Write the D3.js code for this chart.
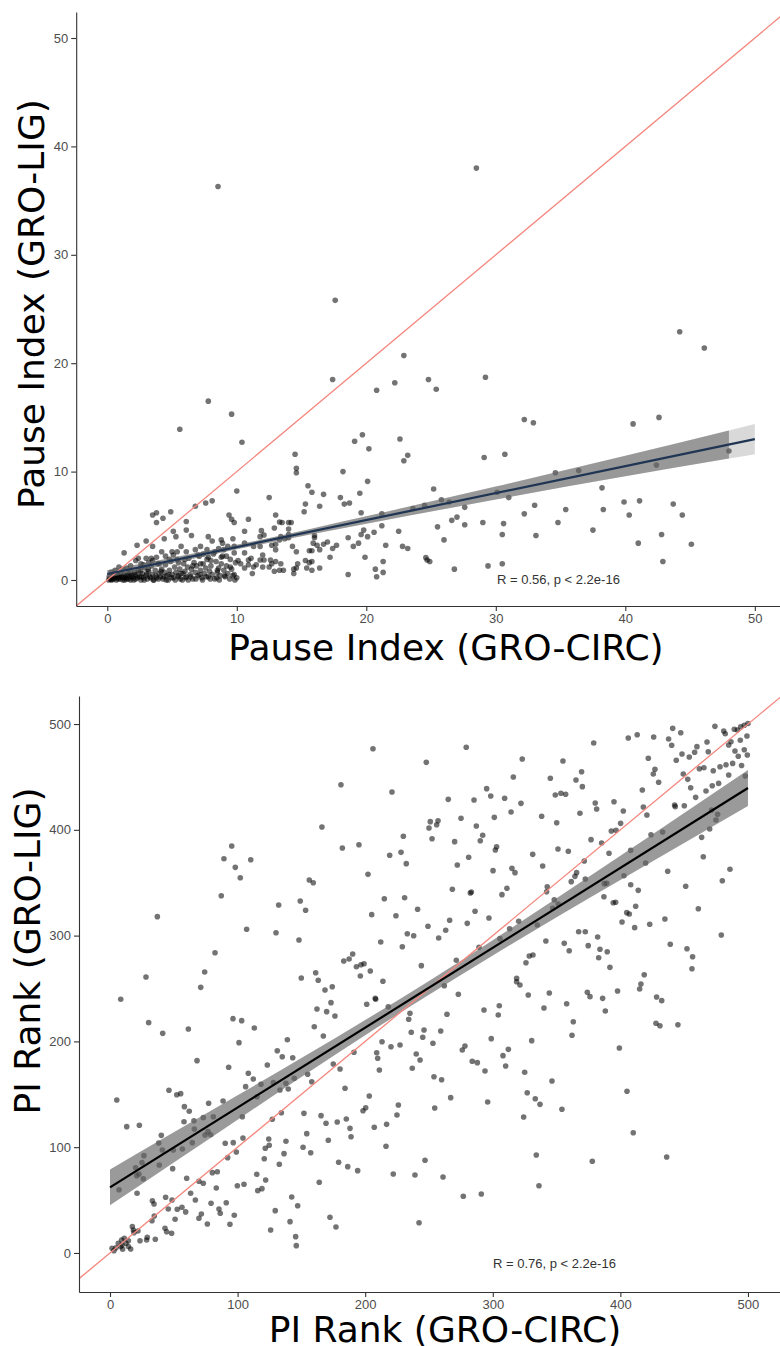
<!DOCTYPE html>
<html>
<head>
<meta charset="utf-8">
<script src="https://cdn.jsdelivr.net/npm/d3@7"></script>
<style>
  body { margin: 0; background: #fff; }
  svg text { font-family: "Liberation Sans", Arial, sans-serif; }
</style>
</head>
<body>
<div id="app"></div>
<script>
`use strict`;

// ---- data ----

const topTicks = [0, 10, 20, 30, 40, 50];
const bottomTicks = [0, 100, 200, 300, 400, 500];

const topLabels = [`Pause Index (GRO-CIRC)`, `Pause Index (GRO-LIG)`, `R = 0.56, p < 2.2e-16`];
const bottomLabels = [`PI Rank (GRO-CIRC)`, `PI Rank (GRO-LIG)`, `R = 0.76, p < 2.2e-16`];

// pause index, GRO-CIRC vs GRO-LIG
const topPoints = [
  [8.55,36.3],[28.5,38.0],[17.6,25.8],[22.9,20.7],[17.4,18.5],[22.2,18.2],[20.8,17.5],[24.8,18.5],[25.4,17.6],[29.2,18.7],
  [44.2,22.9],[46.1,21.4],[7.8,16.5],[9.6,15.3],[5.6,13.9],[10.4,12.7],[14.5,11.6],[14.6,10.3],[14.6,9.9],[19.1,12.8],
  [19.7,13.4],[20.2,12.1],[22.6,13.0],[23.2,11.5],[22.9,11.0],[18.2,10.0],[32.2,14.8],[32.9,14.5],[40.6,14.4],[42.6,15.0],
  [29.1,11.3],[30.7,11.6],[34.6,9.9],[36.4,10.1],[42.4,10.6],[48.0,11.9],
  [12.5,7.6],[15.5,8.7],[15.8,8.1],[16.7,7.9],[16.4,6.8],[15.3,7.0],[15.2,6.3],[18.0,7.6],[18.3,7.0],[18.7,7.1],
  [19.5,8.0],[20.1,9.1],[19.6,6.2],[25.2,8.4],[25.8,7.4],[26.4,7.2],[27.6,6.7],[23.6,6.6],[24.5,6.9],[38.2,8.5],
  [38.3,6.5],[39.9,7.2],[41.1,7.3],[40.3,6.0],[43.7,7.0],[44.4,6.0],[35.4,6.5],[32.2,6.1],[33.0,6.9],[31.0,7.6],
  [30.1,8.1],[27.6,5.1],[27.0,5.8],[26.6,5.5],[29.0,5.3],[30.6,5.2],[30.5,4.2],[33.1,4.1],[34.8,5.3],[37.5,4.6],
  [41.0,3.4],[42.8,4.2],[42.9,1.7],[45.1,3.3],[29.4,1.3],[30.5,1.5],[26.8,1.0],[24.6,2.06],[24.7,1.85],[24.9,1.7],
  [26.0,3.7],[25.5,4.9],[22.5,4.5],[22.8,3.1],[23.2,2.9],[21.5,3.2],[21.2,5.0],[21.2,6.1],[20.6,4.4],[20.1,4.0],
  [19.8,4.6],[19.6,4.2],[19.4,3.4],[19.0,3.1],[19.9,2.1],[20.7,1.0],[20.8,0.3],[21.3,0.7],[21.3,1.7],[18.6,0.5],
  [18.6,3.9],[17.7,3.2],[17.4,2.9],[17.2,2.1],[17.0,3.5],[16.7,3.3],[16.2,3.2],[16.4,2.8],[16.4,1.1],[16.0,4.1],
  [16.0,3.9],[15.9,3.4],[15.6,2.7],[15.8,2.7],[15.3,1.8],[15.6,1.6],[15.8,0.9],[15.4,1.1],[15.8,1.7],[14.3,3.1],
  [14.6,2.6],[14.4,1.0],[14.6,1.1],[14.4,0.6],[14.7,1.5],[14.0,5.3],[14.2,5.3],[13.3,5.35],[13.5,5.3],[14.0,4.7],
  [13.0,6.0],[12.9,4.8],[14.0,4.2],[13.7,3.8],[13.4,4.0],[14.0,3.9],[13.3,3.7],[13.0,3.3],[12.7,3.2],[13.0,2.8],
  [11.9,4.55],[12.1,4.15],[11.8,4.0],[11.8,3.1],[12.0,2.3],[11.8,1.85],[12.1,1.85],[12.6,1.85],[12.5,1.2],[12.7,1.5],
  [13.0,1.7],[13.3,0.9],[13.6,0.9],[13.4,1.5],[12.9,0.8],[12.0,1.2],[11.5,1.4],[11.3,1.2],[11.2,0.6],[10.9,1.4],
  [10.6,1.1],[10.6,4.5],[10.6,3.4],[11.3,3.1],[10.9,1.85],[11.1,2.0],[10.6,2.5],[10.9,5.6],
  [10.0,8.2],[8.1,7.3],[7.6,7.1],[6.8,6.8],[3.8,6.2],[3.5,6.0],[4.3,5.7],[3.8,5.3],[4.9,6.3],[6.1,5.4],
  [6.1,4.6],[6.5,4.1],[9.4,6.0],[9.6,5.6],[9.8,5.3],[5.1,4.5],[5.3,4.0],[4.4,3.8],[3.0,3.6],[2.3,3.2],
  [1.3,2.5],[3.5,3.1],[4.2,2.6],[5.0,2.6],[3.4,2.0],[3.8,2.1],[3.0,2.0],[2.4,2.0],[7.8,4.0],[8.1,3.6],
  [8.8,3.7],[8.9,3.4],[9.7,3.8],[7.2,3.1],[7.7,2.8],[6.8,2.8],[6.1,2.6],[5.4,2.6],[5.1,2.3],[4.5,2.2],
  [8.3,2.6],[9.0,2.8],[9.8,3.1],[9.3,3.1],[7.0,2.3],[7.8,2.1],[8.8,2.1],[9.8,2.5],[10.3,1.5],[9.7,0.4],
  [8.5,0.9],[7.2,1.5],[5.7,3.1],[3.5,1.8],[2.8,1.4],[10.1,1.8],[6.0,1.9],[6.6,1.3],[7.4,2.4],[8.0,1.8],
  [8.6,2.9],[9.2,2.2],[9.5,1.2],[5.5,1.6],[4.8,1.9],[4.0,1.5],[3.2,1.6],[2.6,1.2],
  [0.1,0.0],[0.2,0.1],[0.3,0.05],[0.4,0.2],[0.5,0.1],[0.6,0.3],[0.7,0.0],[0.8,0.2],[0.9,0.4],[1.0,0.1],
  [1.1,0.3],[1.2,0.0],[1.3,0.5],[1.4,0.2],[1.5,0.1],[1.6,0.6],[1.7,0.3],[1.8,0.0],[1.9,0.4],[2.0,0.2],
  [2.1,0.7],[2.2,0.1],[2.3,0.4],[2.4,0.9],[2.5,0.3],[2.6,0.0],[2.7,0.6],[2.8,0.2],[2.9,1.1],[3.0,0.4],
  [3.1,0.1],[3.2,0.8],[3.3,0.3],[3.4,1.3],[3.5,0.5],[3.6,0.0],[3.7,0.9],[3.8,0.2],[3.9,1.5],[4.0,0.6],
  [4.1,0.3],[4.2,1.0],[4.3,0.1],[4.4,0.7],[4.5,1.4],[4.6,0.4],[4.7,0.0],[4.8,0.9],[4.9,1.7],[5.0,0.5],
  [5.1,0.2],[5.2,1.2],[5.3,0.7],[5.4,1.9],[5.5,0.3],[5.6,1.0],[5.7,0.6],[5.8,0.0],[5.9,1.5],[6.0,0.8],
  [6.1,0.3],[6.2,1.2],[6.3,2.0],[6.4,0.5],[6.5,1.0],[6.6,0.1],[6.7,1.6],[6.8,0.7],[6.9,1.3],[7.0,0.4],
  [7.1,2.2],[7.2,0.9],[7.3,0.2],[7.4,1.5],[7.5,0.6],[7.6,1.1],[7.7,1.9],[7.8,0.3],[7.9,0.8],[8.0,1.3],
  [8.1,0.5],[8.2,2.4],[8.3,0.1],[8.4,1.7],[8.5,0.7],[8.6,1.1],[8.7,0.4],[8.8,1.5],[8.9,2.2],[9.0,0.9],
  [9.1,0.3],[9.2,1.3],[9.3,0.6],[9.5,1.9],[9.6,1.0],[9.8,0.5],[9.9,1.6],[10.0,0.2],
  [0.15,0.3],[0.35,0.0],[0.45,0.4],[0.55,0.2],[0.75,0.5],[0.85,0.1],[0.95,0.3],[1.05,0.6],[1.25,0.2],[1.35,0.0],
  [1.45,0.4],[1.65,0.1],[1.75,0.7],[1.85,0.3],[2.05,0.0],[2.15,0.5],[2.35,0.2],[2.55,0.8],[2.65,0.3],[2.85,0.0],
  [3.05,0.6],[3.15,1.0],[3.35,0.2],[3.55,0.0],[3.75,0.4],[3.95,0.1],[4.15,0.8],[4.35,0.3],[4.55,0.0],[4.75,0.5],
  [4.95,0.2],[5.25,0.0],[5.45,0.4],[5.65,0.1],[5.85,0.6],[6.05,0.2],[6.25,0.0],[6.45,0.3],[6.85,0.1],[7.15,0.5],
  [7.35,0.0],[7.65,0.3],[7.95,0.1],[8.45,0.2],[8.65,0.0],[9.05,0.4],[9.45,0.1],[9.85,0.0],
  [0.3,0.7],[0.6,0.9],[0.9,1.2],[1.2,1.0],[1.8,1.3],[2.2,1.8],[2.6,1.5],[1.5,1.1]
];

const topFit = [[0, 0.55], [50, 13.0]];
// [x, lower, upper]
const topBandWide = [[0,0.2,0.9],[5,1.55,2.05],[10,2.84,3.24],[20,5.18,5.88],[30,7.42,8.62],[40,9.56,11.46],[48,11.2,13.8],[50,11.6,14.4]];
const topBandCore = [[0,0.2,0.9],[5,1.55,2.05],[10,2.84,3.24],[20,5.18,5.88],[30,7.42,8.62],[40,9.56,11.46],[48,11.2,13.8]];

// PI rank, GRO-CIRC vs GRO-LIG
const bottomPoints = [
  [95.4,384.7],[89.3,372.7],[98.2,364.5],[102.1,354.7],[110.3,371.7],[87.2,337.7],[107.1,306.0],[37.1,317.9],[82.3,283.8],[74.2,265.6],
  [28.2,260.9],[71.1,251.1],[8.4,239.8],
  [30.3,217.7],[41.3,207.6],[61.4,211.7],[96.4,221.5],[103.2,219.6],[113.1,212.7],[101.1,198.8],[139.0,201.6],[68.2,181.8],[93.0,175.5],
  [123.3,177.7],[135.0,185.5],[143.2,184.6],[131.1,191.2],[5.3,144.6],[13.1,119.4],[23.0,120.7],[46.2,153.8],[52.3,149.6],[55.4,150.6],
  [58.3,138.3],[62.1,133.9],[77.3,141.5],[88.6,143.7],[108.4,169.9],[112.3,164.5],[106.3,157.2],[118.3,159.5],[128.0,161.0],[133.2,154.1],
  [139.7,155.0],[137.9,160.4],[115.2,147.7],[103.7,128.8],[81.0,128.8],[76.8,114.7],[78.9,111.8],[74.5,111.5],[66.1,117.2],[65.8,125.0],
  [58.0,124.1],[56.7,98.3],[64.5,104.3],[73.1,127.9],[90.3,103.7],[92.2,90.1],[99.0,95.5],[104.2,108.7],[49.1,79.7],[38.2,104.0],
  [41.0,97.4],[40.2,111.2],[38.6,83.2],[49.6,97.4],[26.6,92.0],[20.1,80.6],[20.9,73.1],[22.7,74.7],[25.1,85.4],[26.1,70.2],
  [21.2,56.4],[7.1,59.8],[33.2,49.4],[34.5,46.3],[34.7,35.0],[32.9,30.5],[43.6,52.6],[45.7,41.6],[48.6,50.1],[51.0,31.9],
  [52.7,41.3],[56.4,43.2],[59.3,38.8],[60.1,70.6],[63.2,56.4],[66.9,50.1],[69.7,67.8],[73.1,65.9],[71.6,36.9],[69.7,32.8],
  [76.3,27.4],[79.2,47.0],[80.2,75.9],[84.1,76.8],[83.3,61.4],[85.4,41.6],[86.4,37.5],[91.1,47.5],[94.0,27.1],[97.4,35.6],
  [99.8,63.6],[105.0,64.9],[96.6,104.3],[115.0,74.4],[115.8,58.9],[119.1,60.8],[122.0,69.0],[120.9,89.1],[124.4,107.8],[124.8,101.8],
  [127.2,126.4],[121.7,99.0],[132.7,83.8],[136.4,93.9],[137.9,105.6],[134.3,132.6],[129.5,40.0],[125.9,21.7],[142.4,52.9],[141.1,29.6],
  [145.5,15.4],[146.0,6.9],[147.1,44.7],
  [1.6,4.4],[3.1,2.2],[4.7,5.0],[6.5,9.2],[8.4,6.0],[9.9,3.5],[11.2,13.9],[12.5,9.2],[14.4,11.6],[16.2,3.8],
  [17.5,24.9],[18.3,21.7],[18.8,19.2],[14.4,6.0],[9.4,7.6],[23.5,11.6],[28.7,12.3],[29.2,14.8],[35.5,12.9],[43.1,23.3],
  [44.4,20.1],[48.3,18.6],[21.9,20.8],[9.1,12.3],
  [144.4,165.1],[152.0,132.0],[154.2,112.8],[151.3,99.9],[157.3,94.8],[165.4,129.8],[169.3,122.6],[171.1,106.5],[178.1,123.8],[185.2,126.7],
  [188.1,117.8],[188.9,109.9],[179.2,85.7],[186.3,81.6],[194.1,77.8],[164.0,66.8],[172.4,33.7],[177.1,24.6],[184.2,155.7],[198.3,134.5],
  [200.4,137.3],[203.2,148.4],[207.1,118.8],[216.8,121.6],[216.3,100.9],[222.0,74.7],[224.9,130.4],[226.0,139.9],[239.0,73.7],[242.2,28.6],
  [246.9,87.6],[254.5,137.1],[259.9,163.8],[253.9,166.6],[267.0,146.8],[261.0,71.8],[276.9,53.6],[291.0,55.8],[296.0,142.7],[293.9,172.0],
  [283.9,181.2],[287.9,179.9],[276.1,191.9],[278.2,195.7],[253.1,198.2],[246.1,210.8],[245.1,203.9],[240.0,188.1],[243.0,182.4],[236.9,174.6],
  [236.1,208.6],[234.1,220.9],[235.1,226.6],[227.3,196.6],[220.2,195.0],[213.2,199.7],[209.0,189.3],[209.8,184.0],[211.1,173.0],[191.2,189.7],
  [180.3,173.9],[175.0,178.6],[158.1,161.9],[154.9,168.9],[167.2,205.1],[160.1,213.9],[162.2,230.6],[169.8,228.1],[173.2,236.6],[176.3,224.0],
  [168.5,248.6],[174.2,251.7],[201.2,235.1],[208.2,239.8],[218.1,232.8],[259.2,209.8],[264.1,225.6],[262.0,252.6],[273.0,244.5],[293.1,229.7],
  [304.3,225.0],[305.1,233.7],[298.8,202.6],[308.0,186.5],[312.2,192.5],[310.1,176.7],[325.0,170.8],[327.0,151.5],[333.3,145.8],[337.0,140.5],
  [324.2,128.5],[334.1,92.6],[336.2,63.6],[346.4,162.6],[354.2,135.8],[330.5,200.7],[340.1,231.6],[344.3,245.7],[327.8,243.9],[318.7,256.4],
  [321.3,253.3],[357.9,235.6],[363.1,218.6],[362.1,205.8],[374.1,246.4],[376.2,242.3],[386.1,240.7],[388.2,228.7],[397.8,247.6],[399.2,193.8],
  [405.2,152.8],[410.1,113.7],[378.0,86.7],[415.1,249.5],[416.1,254.3],[428.4,242.0],[432.4,238.5],[427.9,217.1],[431.0,214.8],[445.1,215.8],
  [436.3,90.7],
  [206.1,476.7],[247.9,463.8],[181.0,442.6],[221.0,435.7],[166.1,402.6],[251.0,407.7],[257.1,408.6],[250.0,401.7],[256.0,404.8],[252.4,391.6],
  [229.9,393.9],[182.1,382.8],[195.1,385.9],[219.2,375.9],[228.1,378.7],[232.2,368.0],[202.2,357.9],[156.2,352.6],[159.3,350.0],[149.1,332.7],
  [153.3,323.9],[132.2,328.9],[130.1,302.7],[148.1,295.8],[215.0,334.9],[230.9,335.8],[241.1,324.9],[205.1,319.8],[224.1,318.8],[249.2,308.8],
  [257.6,297.7],[212.2,294.0],[229.1,289.5],[233.0,301.8],[238.0,299.9],[244.0,271.6],[190.2,282.6],[183.2,276.0],[187.4,277.9],[193.1,270.6],
  [196.7,272.5],[199.1,273.4],[196.2,261.8],[204.0,266.5],[149.9,259.9],[161.2,264.9],[163.2,257.8],[213.9,256.8],[207.9,240.7],
  [279.2,478.0],[323.1,466.9],[355.0,465.0],[379.1,482.0],[406.2,486.8],[413.2,489.9],[426.1,487.7],[441.0,495.9],[447.3,491.8],[437.8,485.8],
  [440.2,479.9],[474.1,497.8],[481.0,493.4],[482.2,490.8],[489.3,495.0],[491.7,494.3],[494.3,497.4],[497.1,498.8],[500.0,500.5],[467.9,483.0],
  [486.7,483.3],[484.9,480.2],[494.0,484.6],[499.2,488.7],[460.0,478.6],[458.2,473.3],[454.0,468.8],[448.3,471.7],[443.8,465.7],[468.9,473.8],
  [489.8,474.5],[497.1,475.7],[492.4,469.5],[495.0,460.8],[499.5,470.7],[425.8,452.7],[427.1,457.2],[430.0,444.9],[421.9,467.6],[417.2,437.6],
  [465.5,458.7],[461.9,457.8],[472.8,455.9],[478.1,459.6],[482.8,461.5],[488.0,462.8],[449.3,452.7],[452.8,447.7],[455.1,439.8],[459.0,430.7],
  [467.1,436.7],[472.0,441.7],[477.0,443.9],[484.9,451.8],[497.9,450.9],[442.5,423.4],[443.0,421.9],[450.1,422.8],[463.7,392.9],[465.0,374.6],
  [470.0,400.8],[474.9,409.3],[476.2,414.6],[471.5,418.7],[485.9,362.7],[479.9,351.9],[479.1,300.6],[461.1,325.4],[451.2,346.6],[434.9,315.7],
  [439.1,291.8],[452.2,287.6],[456.6,280.0],[456.1,268.7],[418.7,263.0],[437.1,360.8],[433.1,397.9],[424.0,395.4],[420.8,414.0],[418.0,421.6],
  [419.8,368.6],[412.0,327.7],[414.0,342.8],[408.1,348.1],[401.3,312.9],[405.0,321.7],[407.0,320.4],[411.2,307.5],[423.0,310.7],[394.4,331.1],
  [396.3,331.5],[387.1,336.8],[387.4,349.1],[389.3,349.4],[402.8,356.6],[408.1,380.6],[391.1,377.8],[385.3,387.5],[377.0,390.7],[395.0,426.6],
  [402.3,417.8],[380.3,425.3],[381.4,419.7],[392.9,398.9],[396.6,399.5],[400.2,406.1],[368.3,415.6],[369.6,454.9],[365.2,447.1],[370.2,440.8],
  [345.1,448.7],[349.0,432.9],[353.4,434.5],[357.1,433.6],[338.3,412.8],[350.1,406.7],[351.1,381.9],[359.2,379.7],[339.1,365.8],[331.3,376.8],
  [316.1,449.9],[314.3,416.8],[322.1,425.0],[309.3,429.8],[295.2,438.9],[298.4,431.9],[301.2,411.8],[285.3,428.2],[287.1,403.6],[292.1,394.8],
  [290.2,389.7],[275.1,410.9],[270.1,388.8],[272.2,366.7],[265.1,428.8],[281.1,374.0],[300.2,361.4],[303.0,384.0],[302.0,380.9],[315.0,363.6],
  [317.4,359.5],[307.2,338.7],[311.1,344.7],[282.4,340.3],[283.2,341.2],[268.3,343.8],[286.1,323.0],[280.0,311.6],[297.0,316.6],[266.2,314.5],
  [263.1,305.0],[271.4,276.7],[289.2,288.9],[305.6,297.1],[313.2,306.5],[320.3,313.5],[334.9,310.0],[342.7,346.2],[342.2,341.5],[348.2,333.9],
  [351.3,329.9],[346.9,325.8],[361.5,351.0],[364.4,356.0],[365.7,359.5],[372.5,353.5],[371.7,370.5],[372.5,303.7],[367.3,303.7],[356.0,292.7],
  [359.9,285.7],[341.6,294.9],[328.6,280.7],[331.5,281.7],[326.0,274.4],[374.8,290.5],[382.2,298.7],[384.0,287.1],[383.0,279.1],[389.7,284.8],
  [391.8,270.0],[318.7,259.6]
];

const bottomFit = [[0, 62], [500, 439.5]];
const bottomBand = [[0,45,79],[50,85.5,114],[100,126,149],[150,166.4,184.2],[200,205.8,220.2],[250,244.2,257.2],
  [300,281.3,295.7],[350,317.4,335.2],[400,352.6,375.4],[450,387.5,416],[500,422.5,456.5]];

// ---- drawing ----

const W = 780, H = 1346;

const svg = d3.select(`#app`).append(`svg`).attr(`width`, W).attr(`height`, H);

function panel (cfg) {

  let x = d3.scaleLinear().domain(cfg.xDomain).range(cfg.xRange),
      y = d3.scaleLinear().domain(cfg.yDomain).range(cfg.yRange);

  let g = svg.append(`g`);

  g.append(`clipPath`).attr(`id`, cfg.id).append(`rect`)
    .attr(`x`, cfg.xRange[0]).attr(`y`, cfg.yRange[1])
    .attr(`width`, cfg.xRange[1] - cfg.xRange[0]).attr(`height`, cfg.yRange[0] - cfg.yRange[1]);

  let plot = g.append(`g`).attr(`clip-path`, `url(#${cfg.id})`);

  plot.selectAll(`circle`).data(cfg.points).enter().append(`circle`)
    .attr(`cx`, d => x(d[0])).attr(`cy`, d => y(d[1])).attr(`r`, 2.8)
    .attr(`fill`, `#000`).attr(`fill-opacity`, 0.55);

  let area = d3.area().x(d => x(d[0])).y0(d => y(d[1])).y1(d => y(d[2])).curve(d3.curveMonotoneX);

  cfg.bands.forEach(b => {
    plot.append(`path`).datum(b.data).attr(`d`, area).attr(`fill`, `#666`).attr(`fill-opacity`, b.opacity);
  });

  // y = x reference
  plot.append(`line`)
    .attr(`x1`, x(cfg.xDomain[0])).attr(`y1`, y(cfg.xDomain[0]))
    .attr(`x2`, x(cfg.xDomain[1])).attr(`y2`, y(cfg.xDomain[1]))
    .attr(`stroke`, `#f4877e`).attr(`stroke-width`, 1.3);

  plot.append(`path`).datum(cfg.fit)
    .attr(`d`, d3.line().x(d => x(d[0])).y(d => y(d[1])))
    .attr(`stroke`, cfg.fitColor).attr(`stroke-width`, 2.2).attr(`fill`, `none`);

  let xAxis = g.append(`g`).attr(`transform`, `translate(0,${cfg.yRange[0]})`)
    .call(d3.axisBottom(x).tickValues(cfg.ticks).tickSize(5).tickPadding(3).tickSizeOuter(0));

  let yAxis = g.append(`g`).attr(`transform`, `translate(${cfg.xRange[0]},0)`)
    .call(d3.axisLeft(y).tickValues(cfg.ticks).tickSize(5).tickPadding(3).tickSizeOuter(0));

  [xAxis, yAxis].forEach(a => {
    a.select(`.domain`).attr(`stroke`, `#333`).attr(`stroke-width`, 1.1);
    a.selectAll(`.tick line`).attr(`stroke`, `#333`).attr(`stroke-width`, 1.1);
    a.selectAll(`.tick text`).attr(`fill`, `#4d4d4d`).style(`font-size`, `13px`)
      .style(`font-family`, `"Liberation Sans", Arial, sans-serif`);
  });

  g.append(`text`).attr(`x`, cfg.xTitle[0]).attr(`y`, cfg.xTitle[1])
    .attr(`text-anchor`, `middle`).style(`font-family`, `"DejaVu Sans", sans-serif`).style(`font-size`, `36px`)
    .attr(`fill`, `#000`).text(cfg.labels[0]);

  g.append(`text`).attr(`transform`, `translate(${cfg.yTitle[0]},${cfg.yTitle[1]}) rotate(-90)`)
    .attr(`text-anchor`, `middle`).style(`font-family`, `"DejaVu Sans", sans-serif`).style(`font-size`, `36px`)
    .attr(`fill`, `#000`).text(cfg.labels[1]);

  g.append(`text`).attr(`x`, cfg.note[0]).attr(`y`, cfg.note[1])
    .style(`font-size`, `13px`).attr(`fill`, `#333`).text(cfg.labels[2]);
}

panel({
  id: `clipTop`,
  points: topPoints,
  ticks: topTicks,
  labels: topLabels,
  xDomain: [-2.4, 52.4], xRange: [76.2, 785.9],
  yDomain: [-2.4, 52.4], yRange: [606, 12],
  bands: [{data: topBandWide, opacity: 0.25}, {data: topBandCore, opacity: 0.56}],
  fit: topFit, fitColor: `#1f3553`,
  xTitle: [446, 660], yTitle: [44, 304], note: [497, 584]
});

panel({
  id: `clipBottom`,
  points: bottomPoints,
  ticks: bottomTicks,
  labels: bottomLabels,
  xDomain: [-24.3, 525.5], xRange: [79, 780.5],
  yDomain: [-36.9, 526.5], yRange: [1292, 696],
  bands: [{data: bottomBand, opacity: 0.66}],
  fit: bottomFit, fitColor: `#000`,
  xTitle: [445, 1342], yTitle: [40, 951], note: [493, 1268]
});
</script>
</body>
</html>
